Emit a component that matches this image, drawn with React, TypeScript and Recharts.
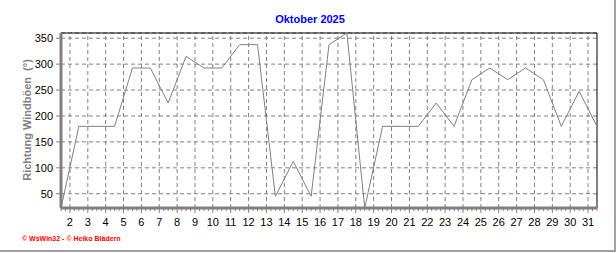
import React from "react";
import { LineChart, Line, XAxis, YAxis, CartesianGrid, ReferenceLine } from "recharts";

// daily values of October 2025, plotted at midday
const days = [1, 2, 3, 4, 5, 6, 7, 8, 9, 10, 11, 12, 13, 14, 15, 16, 17, 18, 19, 20, 21, 22, 23, 24, 25, 26, 27, 28, 29, 30, 31];
const richtung = [
  22.5, 180, 180, 180, 292.5, 292.5, 225, 315, 292.5, 292.5, 337.5, 337.5, 45, 112.5, 45, 337.5,
  360, 22.5, 180, 180, 180, 225, 180, 270, 292.5, 270, 292.5, 270, 180, 247.5, 180,
];
const yTicks = [50, 100, 150, 200, 250, 300, 350];
const dayLines = [2, 3, 4, 5, 6, 7, 8, 9, 10, 11, 12, 13, 14, 15, 16, 17, 18, 19, 20, 21, 22, 23, 24, 25, 26, 27, 28, 29, 30, 31];

const data = days.map((d, i) => ({ t: d + 0.5, wert: richtung[i] }));

// 6-hour minor ticks along the x axis
const xTicks: number[] = [];
for (let q = 6; q <= 126; q++) xTicks.push(q / 4);

const FONT = '"Liberation Sans", Arial, sans-serif';
const GRAU = "#808080";

const XTick = (props: any) => {
  const { x, y, payload } = props;
  const v = payload.value as number;
  const major = Number.isInteger(v);
  return (
    <g>
      <line x1={x} x2={x} y1={y} y2={y + (major ? 5 : 3)} stroke={GRAU} />
      {major && (
        <text x={x} y={y + 18} textAnchor="middle" fontSize={11} fontFamily={FONT} fill="#000">
          {v}
        </text>
      )}
    </g>
  );
};

export default function App() {
  return (
    <div style={{ position: "relative", width: 616, height: 253, background: "#fff", fontFamily: FONT }}>
      <style>{`body{margin:0}`}</style>
      <div
        style={{
          position: "absolute",
          left: 310,
          top: 19,
          transform: "translate(-50%,-50%)",
          color: "#0000ff",
          fontWeight: "bold",
          fontSize: 11,
          whiteSpace: "nowrap",
        }}
      >
        Oktober 2025
      </div>
      <div
        style={{
          position: "absolute",
          left: 27,
          top: 120,
          transform: "translate(-50%,-50%) rotate(-90deg)",
          color: GRAU,
          fontWeight: "bold",
          fontSize: 11,
          whiteSpace: "pre",
        }}
      >
        {"Richtung Windböen  (°)"}
      </div>
      <LineChart width={616} height={253} data={data} margin={{ top: 33, right: 19, bottom: 20, left: 21 }}>
        <CartesianGrid vertical={false} stroke={GRAU} strokeDasharray="4 3" />
        {dayLines.map((d) => (
          <ReferenceLine key={d} x={d} stroke={GRAU} strokeDasharray="4 3" />
        ))}
        <ReferenceLine y={360} stroke="#000" />
        <ReferenceLine x={31.5} stroke="#000" />
        <XAxis
          dataKey="t"
          type="number"
          domain={[1.5, 31.5]}
          ticks={xTicks}
          interval={0}
          height={25}
          tickSize={0}
          tickMargin={0}
          tickLine={false}
          axisLine={{ stroke: GRAU, strokeWidth: 3 }}
          tick={<XTick />}
        />
        <YAxis
          type="number"
          domain={[22.5, 360]}
          ticks={yTicks}
          interval={0}
          width={40}
          tickSize={5}
          tickMargin={3}
          axisLine={{ stroke: GRAU, strokeWidth: 3 }}
          tickLine={{ stroke: GRAU }}
          tick={{ fontSize: 11, fill: "#000", fontFamily: FONT }}
        />
        <Line type="linear" dataKey="wert" stroke={GRAU} strokeWidth={1} dot={false} isAnimationActive={false} />
      </LineChart>
      <div
        style={{
          position: "absolute",
          left: 22,
          top: 238,
          transform: "translateY(-50%)",
          color: "#ff0000",
          fontWeight: "bold",
          fontSize: 7,
          whiteSpace: "nowrap",
        }}
      >
        © WsWin32 - © Heiko Blädern
      </div>
      <div style={{ position: "absolute", left: 0, top: 250, width: 616, height: 2, background: "#a0a0a0" }} />
      <div style={{ position: "absolute", left: 614, top: 0, width: 2, height: 252, background: "#a0a0a0" }} />
    </div>
  );
}
